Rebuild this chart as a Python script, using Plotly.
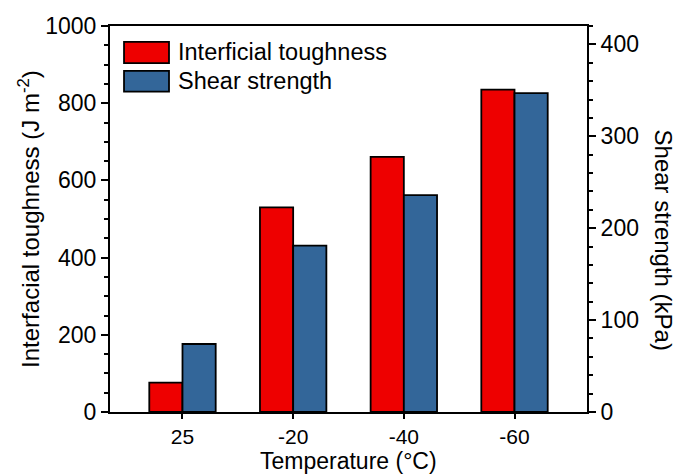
import plotly.graph_objects as go

categories = ["25", "-20", "-40", "-60"]
toughness = [76, 530, 661, 835]
shear = [74, 181, 236, 347]
series_names = ["Interficial toughness", "Shear strength"]
colors = ["#EE0000", "#336699"]

FONT = "Liberation Sans, Arial, sans-serif"
x = list(range(len(categories)))

fig = go.Figure()
fig.add_trace(go.Bar(x=x, y=toughness, name=series_names[0], width=0.3, offset=-0.3,
                     marker=dict(color=colors[0], line=dict(color="black", width=1.8)),
                     yaxis="y", showlegend=False))
fig.add_trace(go.Bar(x=x, y=shear, name=series_names[1], width=0.3, offset=0.0,
                     marker=dict(color=colors[1], line=dict(color="black", width=1.8)),
                     yaxis="y2", showlegend=False))

tickfont = dict(family=FONT, size=23, color="black")

fig.update_layout(
    width=678, height=476,
    margin=dict(l=110, r=91, t=26, b=64),
    paper_bgcolor="white", plot_bgcolor="white",
    barmode="overlay",
    showlegend=False,
    xaxis=dict(
        range=[-0.655, 3.655], tickmode="array", tickvals=x, ticktext=categories,
        showline=True, linecolor="black", linewidth=2, mirror=True,
        ticks="outside", ticklen=5, tickwidth=2, tickcolor="black",
        showgrid=False, zeroline=False, tickfont=dict(family=FONT, size=21, color="black"),
    ),
    yaxis=dict(
        range=[0, 1000], dtick=200, tick0=0,
        showline=True, linecolor="black", linewidth=2,
        ticks="outside", ticklen=7, tickwidth=2, tickcolor="black",
        minor=dict(dtick=50, tick0=0, ticks="outside", ticklen=4, tickwidth=2, tickcolor="black", showgrid=False),
        showgrid=False, zeroline=False, tickfont=tickfont,
    ),
    yaxis2=dict(
        range=[0, 420], dtick=100, tick0=0, overlaying="y", side="right",
        showline=True, linecolor="black", linewidth=2,
        ticks="outside", ticklen=7, tickwidth=2, tickcolor="black",
        minor=dict(dtick=20, tick0=0, ticks="outside", ticklen=4, tickwidth=2, tickcolor="black", showgrid=False),
        showgrid=False, zeroline=False, tickfont=tickfont,
    ),
)

# axis titles
fig.add_annotation(text="Interfacial toughness (J m<sup>-2</sup>)", xref="paper", yref="paper",
                   x=-0.17, y=0.50, xanchor="center", yanchor="middle", textangle=-90,
                   showarrow=False, font=dict(family=FONT, size=24, color="black"))
fig.add_annotation(text="Shear strength (kPa)", xref="paper", yref="paper",
                   x=1.16, y=0.446, xanchor="center", yanchor="middle", textangle=90,
                   showarrow=False, font=dict(family=FONT, size=24, color="black"))
fig.add_annotation(text="Temperature (°C)", xref="paper", yref="paper",
                   x=0.5, y=-0.1655, xanchor="center", yanchor="bottom",
                   showarrow=False, font=dict(family=FONT, size=23, color="black"))

# legend drawn as boxes + labels
legend_rows = [(0.904, 0.959), (0.830, 0.884)]
for (y0, y1), name, col in zip(legend_rows, series_names, colors):
    fig.add_shape(type="rect", xref="paper", yref="paper", x0=0.0294, x1=0.1237, y0=y0, y1=y1,
                  fillcolor=col, line=dict(color="black", width=1.8))
    fig.add_annotation(text=name, xref="paper", yref="paper", x=0.138, y=(y0 + y1) / 2,
                       xanchor="left", yanchor="middle", showarrow=False,
                       font=dict(family=FONT, size=23.5, color="black"))

fig.write_html("out.html")
